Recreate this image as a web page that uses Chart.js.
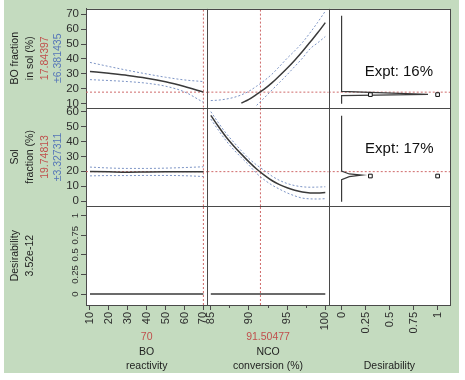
<!DOCTYPE html>
<html>
<head>
<meta charset="utf-8">
<title>Prediction profiler</title>
<script src="https://cdn.jsdelivr.net/npm/chart.js@4.4.1/dist/chart.umd.min.js"></script>
<style>
  html, body { margin: 0; padding: 0; background: #ffffff; }
  #frame { position: relative; width: 465px; height: 380px; overflow: hidden; }
  #green { position: absolute; left: 4px; top: 0; width: 455px; height: 373px; background: #c4dbbf; }
  #chart { position: absolute; left: 0; top: 0; }
</style>
</head>
<body>
<div id="frame"><div id="green"></div><canvas id="chart" width="465" height="380"></canvas></div>
<script>
// ---------------- data ----------------
const boReactivity = [10, 20, 30, 40, 50, 60, 70];
const boFractionByReactivity   = [31.7, 30.4, 29.0, 27.2, 24.8, 21.6, 17.84];
const boFractionByReactivityHi = [37.7, 35.0, 32.4, 30.0, 27.8, 26.0, 24.9];
const boFractionByReactivityLo = [26.2, 25.6, 24.9, 23.8, 21.8, 18.0, 11.0];
const solFractionByReactivity   = [19.8, 19.6, 19.4, 19.5, 19.6, 19.7, 19.75];
const solFractionByReactivityHi = [22.8, 22.2, 21.9, 21.9, 22.1, 22.5, 23.0];
const solFractionByReactivityLo = [16.9, 17.1, 17.1, 17.2, 17.2, 17.0, 16.5];
const desirabilityByReactivity  = [0, 0, 0, 0, 0, 0, 0];

const ncoConversion = [85, 86, 87, 88, 89, 90, 91, 92, 93, 94, 95, 96, 97, 98, 99, 100];
const boFractionByNco   = [null, null, null, null, 10.5, 13.0, 16.3, 19.8, 24.0, 28.8, 33.8, 39.2, 45.0, 51.2, 57.5, 64.3];
const boFractionByNcoHi = [12.2, 12.5, 13.2, 14.3, 16.0, 18.5, 21.8, 25.5, 29.8, 35.0, 40.5, 45.5, 51.0, 57.5, 64.5, 72.0];
const boFractionByNcoLo = [null, null, null, null, null, null, 9.0, 14.0, 19.2, 24.3, 29.5, 35.0, 40.5, 46.8, 50.8, 55.0];
const solFractionByNco   = [57.5, 50.0, 43.0, 37.0, 31.5, 26.3, 21.5, 17.4, 13.8, 11.0, 8.9, 7.3, 6.1, 5.5, 5.4, 5.8];
const solFractionByNcoHi = [60.0, 52.5, 45.5, 39.5, 33.8, 28.5, 24.2, 20.6, 16.8, 13.9, 11.8, 10.4, 9.6, 9.3, 9.4, 9.6];
const solFractionByNcoLo = [55.0, 47.5, 40.5, 34.5, 29.2, 24.1, 18.6, 14.3, 10.8, 8.0, 5.5, 3.5, 2.0, 1.5, 1.4, 1.6];
const desirabilityByNco  = [0, 0, 0, 0, 0, 0, 0, 0, 0, 0, 0, 0, 0, 0, 0, 0];

// desirability functions (desirability on x, response on y)
const boFractionDesirD = [0, 0, 0.9, 0, 0];
const boFractionDesirY = [68.9, 18.4, 16.4, 15.5, 10.0];
const solFractionDesirD = [0, 0, 0.08, 0.21, 0.08, 0, 0];
const solFractionDesirY = [57.3, 20.1, 18.2, 17.4, 16.4, 14.3, -0.5];
const boFractionHandleD = [0.3, 1];
const boFractionHandleY = [16.2, 16.2];
const solFractionHandleD = [0.3, 1];
const solFractionHandleY = [16.8, 16.8];

// current factor settings / predictions
const currentReactivity = 70;
const currentNco = 91.50477;
const currentBoFraction = 17.84397;
const currentSolFraction = 19.74813;
const boFractionCI = '±6.381435';
const solFractionCI = '±3.327311';
const currentDesirability = '3.52e-12';
const exptNotes = ['Expt: 16%', 'Expt: 17%'];

// ticks
const reactivityTicks = [10, 20, 30, 40, 50, 60, 70];
const reactivityTickLabels = ['10', '20', '30', '40', '50', '60', '70'];
const ncoTicks = [85, 87.5, 90, 92.5, 95, 97.5, 100];
const ncoTickLabels = ['85', '', '90', '', '95', '', '100'];
const desirabilityTicks = [0, 0.25, 0.5, 0.75, 1];
const desirabilityTickLabels = ['0', '0.25', '0.5', '0.75', '1'];
const boFractionTicks = [10, 20, 30, 40, 50, 60, 70];
const boFractionTickLabels = ['10', '20', '30', '40', '50', '60', '70'];
const solFractionTicks = [0, 10, 20, 30, 40, 50, 60];
const solFractionTickLabels = ['0', '10', '20', '30', '40', '50', '60'];

// axis ranges
const X1 = {min: 7.9, max: 72.1};
const X2 = {min: 84.55, max: 100.45};
const X3 = {min: -0.134, max: 1.13};
const Y1 = {min: 7.5, max: 73.5};
const Y2 = {min: -3.5, max: 62.7};
const Y3 = {min: -0.14, max: 1.12};

// ---------------- styles ----------------
const FONT = "'Liberation Sans', Arial, Helvetica, sans-serif";
const INK = '#1e1e1e', TICK_INK = '#2e2e2e', RED_TXT = '#c0504d', BLUE_TXT = '#5676b8';
const CURVE = '#3a3a3a', CI = '#7d95c6', REF = '#cf6a6a', FRAME = '#4a4a4a';

function xy(xs, ys) { return xs.map((x, i) => ({x: x, y: ys[i]})); }
const datasets = [];
function addCurve(xs, ys, xId, yId) {
  datasets.push({data: xy(xs, ys), xAxisID: xId, yAxisID: yId, showLine: true, borderColor: CURVE,
    borderWidth: 1.5, pointRadius: 0, cubicInterpolationMode: 'monotone', spanGaps: false});
}
function addBand(xs, ys, xId, yId) {
  datasets.push({data: xy(xs, ys), xAxisID: xId, yAxisID: yId, showLine: true, borderColor: CI,
    borderWidth: 1, borderDash: [2, 2], pointRadius: 0, cubicInterpolationMode: 'monotone', spanGaps: false});
}
function addPoly(xs, ys, xId, yId) {
  datasets.push({data: xy(xs, ys), xAxisID: xId, yAxisID: yId, showLine: true, borderColor: CURVE,
    borderWidth: 1.2, pointRadius: 0, tension: 0});
}
function addHandles(xs, ys, xId, yId) {
  datasets.push({data: xy(xs, ys), xAxisID: xId, yAxisID: yId, showLine: false, pointStyle: 'rect',
    pointRadius: 2.6, backgroundColor: '#ffffff', borderColor: '#111111', borderWidth: 1});
}
function addRef(xs, ys, xId, yId) {
  datasets.push({data: xy(xs, ys), xAxisID: xId, yAxisID: yId, showLine: true, borderColor: REF,
    borderWidth: 1, borderDash: [2, 2], pointRadius: 0, tension: 0});
}

// row 1: BO fraction in sol
addCurve(boReactivity, boFractionByReactivity, 'x1', 'y1');
addBand(boReactivity, boFractionByReactivityHi, 'x1', 'y1');
addBand(boReactivity, boFractionByReactivityLo, 'x1', 'y1');
addCurve(ncoConversion, boFractionByNco, 'x2', 'y1');
addBand(ncoConversion, boFractionByNcoHi, 'x2', 'y1');
addBand(ncoConversion, boFractionByNcoLo, 'x2', 'y1');
addHandles(boFractionHandleD, boFractionHandleY, 'x3', 'y1');
addPoly(boFractionDesirD, boFractionDesirY, 'x3', 'y1');
// row 2: Sol fraction
addCurve(boReactivity, solFractionByReactivity, 'x1', 'y2');
addBand(boReactivity, solFractionByReactivityHi, 'x1', 'y2');
addBand(boReactivity, solFractionByReactivityLo, 'x1', 'y2');
addCurve(ncoConversion, solFractionByNco, 'x2', 'y2');
addBand(ncoConversion, solFractionByNcoHi, 'x2', 'y2');
addBand(ncoConversion, solFractionByNcoLo, 'x2', 'y2');
addHandles(solFractionHandleD, solFractionHandleY, 'x3', 'y2');
addPoly(solFractionDesirD, solFractionDesirY, 'x3', 'y2');
// row 3: desirability
addCurve(boReactivity, desirabilityByReactivity, 'x1', 'y3');
addCurve(ncoConversion, desirabilityByNco, 'x2', 'y3');
// reference (current setting) lines
[['y1', Y1], ['y2', Y2], ['y3', Y3]].forEach(([id, r]) => {
  addRef([currentReactivity, currentReactivity], [r.min, r.max], 'x1', id);
  addRef([currentNco, currentNco], [r.min, r.max], 'x2', id);
});
[['x1', X1], ['x2', X2], ['x3', X3]].forEach(([id, r]) => {
  addRef([r.min, r.max], [currentBoFraction, currentBoFraction], id, 'y1');
  addRef([r.min, r.max], [currentSolFraction, currentSolFraction], id, 'y2');
});

// ---------------- axes ----------------
function xAxis(range, ticks, labels) {
  return {
    type: 'linear', position: 'bottom', stack: 'columns', stackWeight: 1,
    min: range.min, max: range.max,
    afterBuildTicks: s => { s.ticks = ticks.map(v => ({value: v})); },
    afterFit: s => { s.height = 75; },
    ticks: {autoSkip: false, minRotation: 90, maxRotation: 90, padding: 2, color: TICK_INK,
      font: {family: FONT, size: 11}, callback: (v, i) => labels[i]},
    grid: {drawOnChartArea: false, drawTicks: true, tickLength: 5, tickColor: FRAME,
      tickBorderDash: c => (labels[c.index] === '' ? [2, 20] : [])},
    border: {display: true, color: FRAME, width: 1}
  };
}
function yAxis(range, ticks, labels, rotated) {
  return {
    type: 'linear', position: 'left', stack: 'rows', stackWeight: 1,
    min: range.min, max: range.max,
    afterBuildTicks: s => { s.ticks = ticks.map(v => ({value: v})); },
    afterFit: s => { s.width = 86; },
    ticks: {autoSkip: false, padding: rotated ? -4 : 2, minRotation: rotated ? 90 : 0, maxRotation: rotated ? 90 : 0,
      crossAlign: rotated ? 'center' : 'near', color: TICK_INK,
      font: {family: FONT, size: rotated ? 9.5 : 11.5}, callback: (v, i) => labels[i]},
    grid: {drawOnChartArea: false, drawTicks: true, tickLength: 5, tickColor: FRAME},
    border: {display: true, color: FRAME, width: 1}
  };
}

// ---------------- labels ----------------
const rowLabelLines = [
  [['BO fraction', INK], ['in sol (%)', INK], [String(currentBoFraction), RED_TXT], [boFractionCI, BLUE_TXT]],
  [['Sol', INK], ['fraction (%)', INK], [String(currentSolFraction), RED_TXT], [solFractionCI, BLUE_TXT]],
  [['Desirability', INK], [currentDesirability, INK]]
];
const colLabelLines = [
  [[String(currentReactivity), RED_TXT], ['BO', INK], ['reactivity', INK]],
  [[String(currentNco), RED_TXT], ['NCO', INK], ['conversion (%)', INK]],
  [null, null, ['Desirability', INK]]
];
const rowLineX = [15, 30.5, 45.5, 58.5];
const colLineY = [337, 352, 366];

function drawText(ctx, text, x, y, color, size, rotate, align) {
  ctx.save();
  ctx.translate(x, y);
  if (rotate) ctx.rotate(-Math.PI / 2);
  ctx.fillStyle = color;
  ctx.font = size + 'px ' + FONT;
  ctx.textAlign = align || 'center';
  ctx.textBaseline = 'middle';
  ctx.fillText(text, 0, 0);
  ctx.restore();
}

const profilerDecor = {
  id: 'profilerDecor',
  beforeDraw(chart) {
    const {ctx, chartArea: a} = chart;
    ctx.save();
    ctx.fillStyle = '#ffffff';
    ctx.fillRect(a.left, a.top, a.right - a.left, a.bottom - a.top);
    ctx.restore();
  },
  afterDatasetsDraw(chart) {
    const {ctx, chartArea: a, scales: s} = chart;
    const px = v => Math.round(v) + 0.5;
    ctx.save();
    ctx.strokeStyle = FRAME;
    ctx.lineWidth = 1;
    ctx.beginPath();
    [s.x1.right, s.x2.right, s.x3.right].forEach(x => { ctx.moveTo(px(x), a.top); ctx.lineTo(px(x), a.bottom); });
    [s.y1.top, s.y1.bottom, s.y2.bottom].forEach(y => { ctx.moveTo(a.left, px(y)); ctx.lineTo(a.right, px(y)); });
    ctx.stroke();
    ctx.restore();

    const rowScales = [s.y1, s.y2, s.y3];
    rowLabelLines.forEach((lines, r) => {
      const cy = (rowScales[r].top + rowScales[r].bottom) / 2;
      lines.forEach((ln, i) => drawText(ctx, ln[0], rowLineX[i], cy, ln[1], 10.5, true));
    });
    const colScales = [s.x1, s.x2, s.x3];
    colLabelLines.forEach((lines, c) => {
      const cx = (colScales[c].left + colScales[c].right) / 2;
      lines.forEach((ln, i) => { if (ln) drawText(ctx, ln[0], cx, colLineY[i], ln[1], 10.5, false); });
    });
    drawText(ctx, exptNotes[0], s.x3.getPixelForValue(0.24), s.y1.getPixelForValue(31.5), '#111111', 15, false, 'left');
    drawText(ctx, exptNotes[1], s.x3.getPixelForValue(0.245), s.y2.getPixelForValue(35), '#111111', 15, false, 'left');
  }
};

new Chart(document.getElementById('chart'), {
  type: 'scatter',
  data: {datasets: datasets},
  options: {
    responsive: false,
    animation: false,
    devicePixelRatio: 1,
    layout: {padding: {left: 0, right: 10, top: 8, bottom: 0}},
    plugins: {legend: {display: false}, tooltip: {enabled: false}},
    scales: {
      x1: xAxis(X1, reactivityTicks, reactivityTickLabels),
      x2: xAxis(X2, ncoTicks, ncoTickLabels),
      x3: xAxis(X3, desirabilityTicks, desirabilityTickLabels),
      y3: yAxis(Y3, desirabilityTicks, desirabilityTickLabels, true),
      y2: yAxis(Y2, solFractionTicks, solFractionTickLabels, false),
      y1: yAxis(Y1, boFractionTicks, boFractionTickLabels, false)
    }
  },
  plugins: [profilerDecor]
});
</script>
</body>
</html>
